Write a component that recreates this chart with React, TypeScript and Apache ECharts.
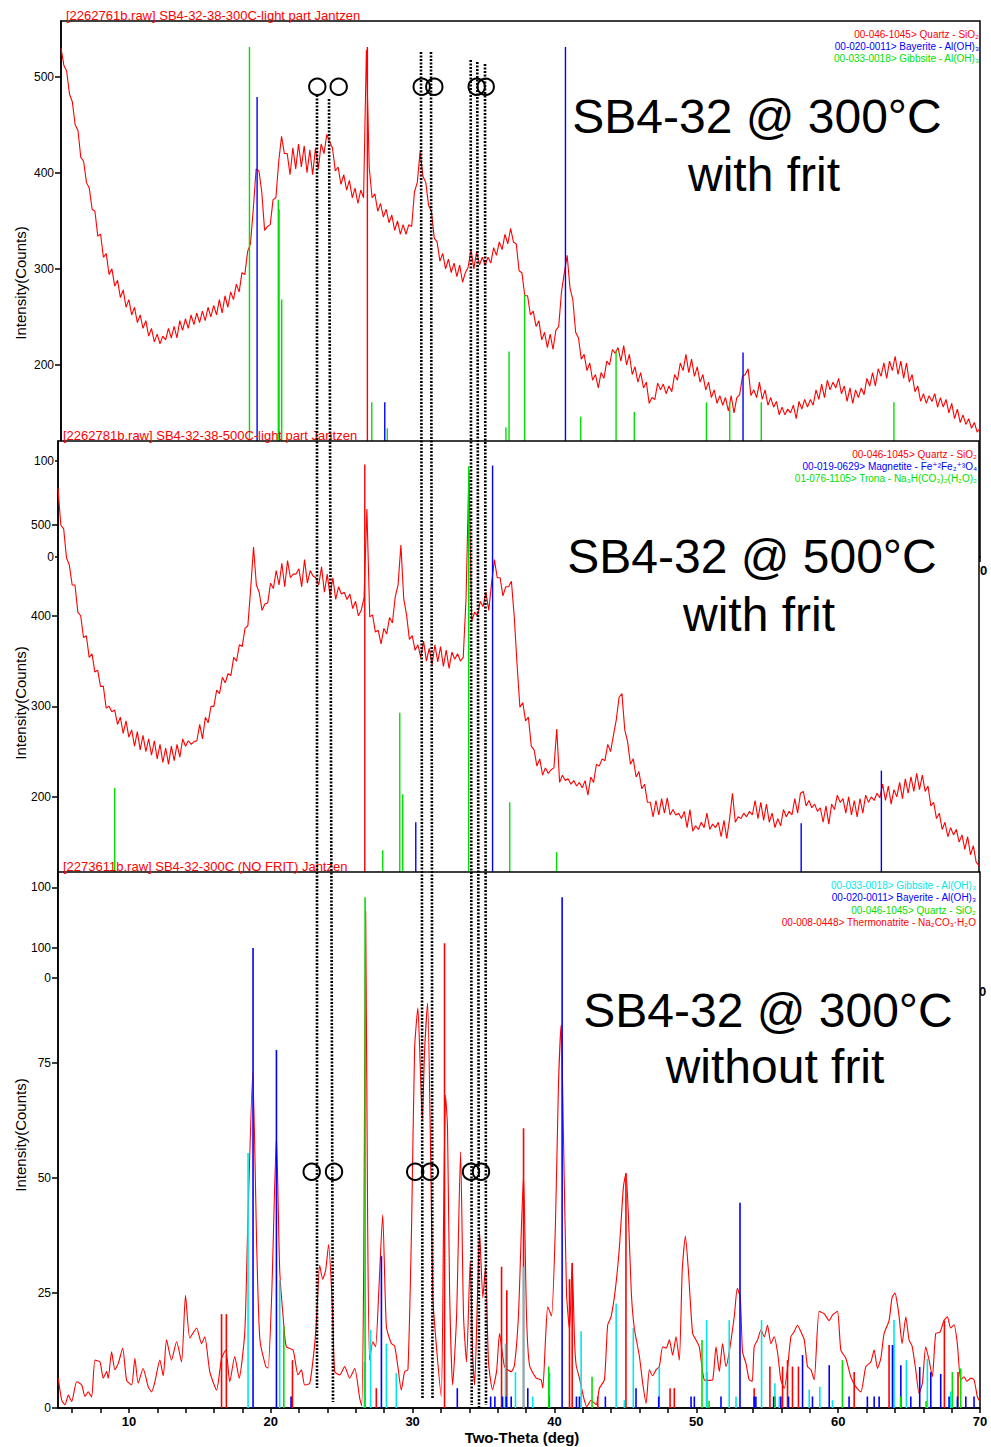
import React, { useEffect, useRef } from "react";
import * as echarts from "echarts";

// ---- scans on a uniform 0.2° grid from 5° ----
const THETA_START = 5;
const THETA_STEP = 0.2;

// SB4-32 @ 300°C with frit (counts)
const SCAN_300C_FRIT = [
  530, 512, 506, 482, 474, 450, 444, 416, 412, 390,
  384, 362, 360, 334, 336, 312, 316, 294, 300, 282,
  288, 270, 278, 260, 268, 252, 260, 244, 252, 238,
  246, 230, 238, 224, 232, 222, 230, 226, 238, 228,
  240, 228, 246, 236, 248, 238, 252, 242, 254, 244,
  256, 246, 260, 250, 262, 252, 268, 254, 272, 260,
  276, 268, 284, 276, 296, 294, 318, 326, 362, 404,
  402, 380, 340, 344, 346, 372, 374, 412, 438, 420,
  420, 398, 426, 404, 430, 406, 428, 400, 424, 398,
  426, 404, 430, 420, 440, 432, 426, 402, 406, 388,
  398, 382, 392, 374, 384, 368, 382, 374, 528, 406,
  374, 378, 360, 368, 354, 362, 348, 356, 340, 350,
  336, 346, 336, 346, 344, 380, 390, 422, 396, 390,
  366, 360, 332, 328, 308, 316, 300, 310, 296, 306,
  292, 304, 286, 296, 302, 320, 300, 318, 304, 312,
  304, 312, 306, 322, 314, 328, 320, 336, 326, 342,
  328, 326, 298, 296, 272, 272, 252, 256, 240, 246,
  226, 234, 218, 232, 216, 236, 240, 276, 296, 314,
  280, 268, 234, 228, 206, 211, 194, 202, 184, 190,
  176, 192, 186, 204, 200, 216, 212, 218, 204, 220,
  200, 211, 190, 198, 182, 192, 176, 182, 160, 166,
  164, 181, 174, 180, 170, 178, 172, 190, 184, 202,
  194, 211, 192, 206, 188, 198, 182, 190, 174, 182,
  166, 174, 160, 168, 158, 166, 152, 168, 150, 166,
  169, 188, 190, 196, 168, 174, 166, 182, 164, 174,
  158, 166, 156, 162, 148, 156, 148, 154, 150, 158,
  144, 162, 154, 164, 156, 164, 158, 174, 164, 180,
  166, 184, 174, 182, 176, 186, 170, 178, 162, 176,
  160, 174, 166, 176, 169, 186, 178, 192, 178, 196,
  188, 202, 186, 204, 194, 209, 190, 204, 186, 202,
  182, 190, 172, 178, 162, 170, 160, 168, 162, 170,
  156, 166, 156, 164, 150, 160, 144, 154, 140, 148,
  138, 144, 134, 140, 130, 134,
];

// SB4-32 @ 500°C with frit (counts)
const SCAN_500C_FRIT = [
  541, 500, 496, 464, 456, 434, 434, 404, 400, 376,
  378, 354, 358, 338, 340, 322, 322, 298, 300, 294,
  296, 280, 288, 270, 284, 266, 274, 256, 272, 252,
  268, 250, 264, 246, 262, 242, 258, 238, 254, 236,
  256, 240, 258, 244, 264, 256, 262, 258, 261, 262,
  280, 264, 288, 282, 300, 300, 318, 314, 332, 326,
  336, 334, 354, 350, 368, 366, 386, 389, 430, 476,
  434, 426, 406, 413, 414, 436, 430, 450, 434, 458,
  432, 461, 442, 446, 446, 452, 432, 462, 436, 450,
  444, 442, 434, 454, 426, 446, 422, 442, 418, 432,
  424, 426, 418, 424, 408, 416, 400, 406, 420, 518,
  399, 401, 382, 384, 369, 386, 380, 398, 392, 421,
  434, 478, 419, 401, 374, 378, 362, 368, 354, 372,
  350, 364, 346, 368, 349, 366, 344, 362, 342, 360,
  352, 358, 350, 354, 420, 560, 394, 404, 400, 416,
  410, 426, 406, 436, 462, 442, 442, 422, 432, 432,
  438, 399, 346, 299, 304, 284, 288, 256, 252, 234,
  242, 224, 232, 226, 230, 232, 275, 216, 224, 218,
  220, 214, 218, 212, 216, 210, 218, 202, 222, 216,
  236, 234, 242, 240, 258, 250, 268, 285, 310, 314,
  274, 261, 236, 242, 222, 228, 209, 214, 194, 194,
  178, 196, 180, 198, 182, 199, 180, 186, 180, 182,
  176, 184, 166, 186, 162, 168, 164, 172, 166, 182,
  164, 170, 166, 172, 156, 174, 154, 176, 204, 172,
  178, 176, 182, 178, 184, 180, 196, 176, 194, 174,
  192, 172, 182, 166, 176, 168, 186, 178, 184, 180,
  198, 182, 204, 206, 190, 196, 188, 192, 184, 188,
  172, 190, 170, 192, 186, 202, 194, 198, 182, 200,
  180, 196, 178, 198, 182, 202, 194, 200, 196, 204,
  199, 214, 196, 212, 192, 208, 200, 216, 198, 220,
  204, 222, 206, 226, 208, 224, 206, 212, 190, 194,
  176, 182, 164, 172, 156, 166, 158, 164, 150, 158,
  142, 156, 136, 146, 128, 124,
];

// SB4-32 @ 300°C without frit: [2θ, counts]
const SCAN_300C_NOFRIT = [
  [5.02, 6.5], [5.26, 1.7], [5.49, 0.7], [5.73, 2.8], [5.96, 1.4], [6.32, 5.7], [6.67, 5], [6.9, 2.5], [7.13, 3.5], [7.37, 2.4],
  [7.61, 10.4], [7.96, 10], [8.19, 6.5], [8.43, 7.9], [8.54, 6.4], [8.78, 12.2], [9.01, 8.3], [9.25, 9.7], [9.56, 13], [9.84, 6],
  [10.19, 5], [10.42, 10.8], [10.65, 5.4], [11.0, 8.6], [11.36, 4.6], [11.6, 3.5], [11.83, 5.7], [12.18, 10.4], [12.42, 7], [12.65, 14.8],
  [13.0, 10.4], [13.36, 14.4], [13.71, 10], [13.99, 24.5], [14.3, 15.2], [14.77, 17.4], [15.12, 14], [15.35, 15.5], [15.7, 7.9], [16.18, 3.9],
  [16.53, 10.8], [16.83, 12.6], [17.11, 5.7], [17.46, 11.2], [17.77, 6.5], [18.17, 16.6], [18.38, 40], [18.73, 73], [19.01, 35], [19.23, 15],
  [19.65, 9], [19.81, 8.7], [20.07, 25], [20.4, 59], [20.63, 30], [20.92, 18], [21.1, 13.3], [21.57, 12.6], [21.92, 7.2], [22.16, 8.3],
  [22.39, 5], [22.75, 5.4], [23.1, 14], [23.24, 20], [23.45, 31], [23.66, 28], [23.87, 30], [24.08, 35.5], [24.37, 20], [24.51, 7.9],
  [24.86, 7.2], [25.21, 9], [25.56, 6.5], [25.92, 8.6], [26.27, 2.1], [26.41, 0.5], [26.55, 30], [26.69, 108], [26.83, 40], [26.97, 10.4],
  [27.2, 14.4], [27.39, 13.3], [27.61, 25], [27.89, 42], [28.15, 17.7], [28.5, 14], [28.73, 13.5], [28.96, 9], [29.2, 3.9], [29.44, 7.9],
  [29.67, 8.3], [29.93, 40], [30.14, 78], [30.37, 87], [30.53, 75], [30.68, 62.6], [30.85, 78], [31.06, 88], [31.27, 55], [31.43, 24],
  [31.67, 13.7], [32.02, 2.5], [32.18, 40], [32.32, 68], [32.46, 61], [32.61, 25], [32.82, 5], [33.1, 20], [33.38, 55.7], [33.59, 20],
  [33.8, 10], [34.06, 32], [34.23, 12], [34.37, 5], [34.58, 25], [34.72, 38.3], [34.95, 24], [35.14, 30.7], [35.35, 10], [35.63, 4],
  [35.92, 8], [36.13, 16.2], [36.48, 9], [36.95, 7.9], [37.18, 9.3], [37.46, 20], [37.68, 40], [37.82, 50.7], [38.03, 20], [38.24, 9.3],
  [38.71, 6.5], [39.06, 6.1], [39.18, 4.3], [39.37, 15], [39.53, 22], [39.79, 20], [40.07, 40], [40.28, 70], [40.47, 83.3], [40.63, 60],
  [40.85, 25], [41.06, 17], [41.25, 31.5], [41.41, 15], [41.53, 9.3], [41.76, 6.5], [42.04, 2.5], [42.28, 0.3], [42.58, 1.7], [42.94, 0.7],
  [43.17, 4.3], [43.52, 6.1], [43.75, 18], [43.99, 19.8], [44.3, 26], [44.58, 35], [44.86, 48], [45.04, 51], [45.21, 42], [45.42, 25],
  [45.63, 17.3], [45.99, 11.2], [46.22, 5.4], [46.46, 1], [46.69, 8.3], [46.92, 7], [47.16, 8.3], [47.39, 9], [47.63, 13.3], [47.87, 13],
  [48.1, 14.8], [48.33, 11.5], [48.57, 15.5], [48.8, 10.4], [49.01, 30], [49.23, 37.4], [49.44, 30], [49.74, 16.2], [49.98, 14.8], [50.21, 13.3],
  [50.56, 6.1], [50.85, 6], [51.15, 6.1], [51.39, 13.3], [51.62, 7.9], [51.85, 14], [52.09, 9], [52.31, 12], [52.68, 20], [52.89, 26],
  [53.1, 24], [53.26, 12.2], [53.5, 9.7], [53.73, 6.1], [53.94, 5.8], [54.08, 13.3], [54.32, 14.8], [54.56, 17], [54.79, 15.5], [55.02, 18],
  [55.26, 14], [55.49, 15.5], [55.73, 12], [55.96, 6.1], [56.2, 4.3], [56.43, 8.6], [56.67, 15.5], [56.9, 16.6], [57.13, 18], [57.37, 16.6],
  [57.61, 14.8], [57.84, 9], [58.08, 8.3], [58.31, 6.1], [58.66, 21], [59.01, 20.5], [59.37, 19], [59.6, 20.2], [59.95, 21], [60.19, 12.6],
  [60.54, 10.8], [60.89, 6.8], [61.25, 4.6], [61.6, 3.5], [61.95, 9], [62.3, 10], [62.54, 12.6], [62.77, 8.6], [63.01, 10.8], [63.24, 16.2],
  [63.59, 19], [63.8, 24], [64.01, 25], [64.15, 23], [64.3, 19.8], [64.51, 14], [64.77, 19.8], [65.0, 14.8], [65.21, 13.5], [65.47, 8.3],
  [65.7, 3.2], [65.94, 5.4], [66.17, 13.3], [66.41, 10.4], [66.64, 6.8], [66.88, 16.2], [67.18, 16.5], [67.46, 19], [67.7, 19.8], [67.93, 17.4],
  [68.17, 18.1], [68.4, 14], [68.64, 6.1], [68.87, 6.8], [69.08, 5.8], [69.35, 6.5], [69.58, 6.1], [69.81, 2.5], [69.93, 1.7],
];

// ---- reference patterns: [2θ, stick height in the panel's counts] ----
const P1_QUARTZ = [[26.67, 531]];
const P1_BAYERITE = [[18.87, 479], [20.4, 362], [27.9, 161], [40.68, 531], [53.24, 213]];
const P1_GIBBSITE = [
  [18.33, 531], [20.37, 372], [20.61, 268], [26.98, 161], [28.08, 134], [36.47, 135], [36.69, 214],
  [37.79, 273], [41.76, 146], [44.26, 215], [45.55, 151], [50.65, 161], [52.3, 161], [54.53, 161], [63.91, 161],
];

const P2_QUARTZ = [[26.65, 567]];
const P2_MAGNETITE = [[30.25, 172], [35.67, 566], [57.45, 171], [63.11, 229]];
const P2_TRONA = [[9.0, 210], [27.92, 141], [29.12, 293], [29.33, 203], [33.98, 565], [36.88, 194], [40.19, 139]];

const P3_GIBBSITE = [
  [18.4, 55.4], [20.63, 27.8], [26.6, 10], [27.04, 17], [28.15, 14], [28.85, 7.6], [36.55, 14], [37.25, 7.8],
  [37.82, 30.7], [38.47, 2.5], [39.65, 7.6], [41.88, 16.7], [44.35, 22.7], [44.93, 1.7], [45.56, 17.4], [47.39, 9],
  [50.73, 19.1], [52.32, 19.1], [52.8, 2.5], [54.6, 19.1], [55.54, 5.4], [55.85, 2.5], [57.96, 4], [58.71, 4.6],
  [59.6, 1.7], [63.94, 19.1], [64.81, 10.4], [66.29, 10.7], [67.94, 3.6], [68.41, 1.7],
];
const P3_BAYERITE = [
  [18.75, 100], [20.4, 77.8], [21.43, 2.5], [27.8, 33], [33.15, 4.3], [35.5, 2.5], [35.8, 2.5], [36.34, 2.5],
  [36.6, 2.5], [36.95, 2.5], [38.12, 4.3], [39.6, 2.5], [40.54, 111], [41.55, 2.5], [41.76, 2.5], [43.59, 2.5],
  [45.75, 4.3], [47.35, 2.5], [49.63, 2.5], [49.86, 2.5], [51.74, 2.5], [53.08, 44.6], [54.08, 2.5], [54.2, 2.5],
  [55.45, 2.5], [55.96, 2.5], [56.5, 2.5], [57.49, 11.5], [58.19, 2.5], [59.37, 9.3], [60.77, 2.5], [62.06, 2.5],
  [62.54, 2.5], [62.89, 2.5], [63.83, 13.7], [64.42, 9.3], [65.12, 2.5], [65.75, 8.9], [66.53, 7.8], [67.23, 7.4],
  [67.82, 2.5], [68.41, 2.5], [69.0, 2.5], [69.58, 2.5],
];
const P3_QUARTZ = [
  [20.92, 17.8], [26.65, 111], [39.6, 9], [42.65, 6.8], [50.4, 14.8], [50.9, 1.5], [55.56, 2.5], [60.3, 10.4],
  [64.4, 2.5], [66.2, 1.5], [68.05, 7.8], [68.64, 8.6],
];
const P3_THERMONATRITE = [
  [16.53, 20.4], [16.87, 20.4], [21.53, 10.4], [27.44, 4.3], [32.25, 101], [36.27, 30.7], [36.64, 25.6],
  [37.82, 60.8], [41.06, 28], [41.25, 31.5], [43.05, 2.5], [45.04, 51], [48.15, 4.3], [48.45, 4.3], [50.73, 7.9],
  [54.08, 4.3], [55.19, 9], [56.08, 9], [56.43, 10.4], [56.78, 9], [57.2, 9], [61.13, 7.8], [63.59, 13.7],
  [67.49, 19], [68.45, 7.8],
];

// ---- axis ticks ----
const X_TICKS = [6, 8, 10, 12, 14, 16, 18, 20, 22, 24, 26, 28, 30, 32, 34, 36, 38, 40, 42, 44, 46, 48, 50, 52, 54, 56, 58, 60, 62, 64, 66, 68, 70];
const X_LABELS = [10, 20, 30, 40, 50, 60, 70];
// the two upper plots only keep the label that is not hidden behind the next plot
const X_LABELS_COVERED = [70];
const P1_Y_TICKS = [0, 100, 200, 300, 400, 500];
const P2_Y_TICKS = [0, 100, 200, 300, 400, 500];
const P3_Y_TICKS = [0, 25, 50, 75, 100];
const Y_MAX = [558, 593, 116.5];

// ---- texts ----
const TITLES = [
  "[2262761b.raw] SB4-32-38-300C-light part Jantzen",
  "[2262781b.raw] SB4-32-38-500C-light part Jantzen",
  "[2273611b.raw] SB4-32-300C (NO FRIT) Jantzen",
];
const LEGEND_1 = [
  ["00-046-1045> Quartz - SiO\u2082", "#ff0000"],
  ["00-020-0011> Bayerite - Al(OH)\u2083", "#0000ff"],
  ["00-033-0018> Gibbsite - Al(OH)\u2083", "#00e000"],
];
const LEGEND_2 = [
  ["00-046-1045> Quartz - SiO\u2082", "#ff0000"],
  ["00-019-0629> Magnetite - Fe\u207A\u00B2Fe\u2082\u207A\u00B3O\u2084", "#0000ff"],
  ["01-076-1105> Trona - Na\u2083H(CO\u2083)\u2082(H\u2082O)\u2082", "#00e000"],
];
const LEGEND_3 = [
  ["00-033-0018> Gibbsite - Al(OH)\u2083", "#00e8e8"],
  ["00-020-0011> Bayerite - Al(OH)\u2083", "#0000ff"],
  ["00-046-1045> Quartz - SiO\u2082", "#00e000"],
  ["00-008-0448> Thermonatrite - Na\u2082CO\u2083\u00B7H\u2082O", "#ff0000"],
];
const SAMPLE_LABELS = [
  ["SB4-32 @ 300\u00B0C", "with frit"],
  ["SB4-32 @ 500\u00B0C", "with frit"],
  ["SB4-32 @ 300\u00B0C", "without frit"],
];

const FONT = '"Liberation Sans", Arial, Helvetica, "DejaVu Sans", sans-serif';
const RED = "#ff0000";
const BLUE = "#0000ff";
const GREEN = "#00e000";
const CYAN = "#00e8e8";

// page layout of the three stacked plots (later ones paint over earlier ones)
const PANELS = [
  { left: 61, top: 21, width: 919, height: 536, z: 1 },
  { left: 58, top: 441, width: 921, height: 537, z: 10 },
  { left: 58, top: 872, width: 922, height: 536, z: 20 },
];

// hand-drawn guide lines and circles over all three plots
const GUIDE_LINES = [
  [317, 95, 317, 1388],
  [329, 99, 333, 1402],
  [421, 52, 422.5, 1398],
  [431, 52, 432.5, 1398],
  [470.7, 60, 471.7, 1405],
  [477.3, 62, 479, 1408],
  [485, 64, 486, 1405],
];
const GUIDE_CIRCLES = [
  [317.3, 86.7], [338.7, 86.7], [421.7, 86.7], [434.3, 86.7], [476.7, 86.7], [485.7, 86.7],
  [311.7, 1171.7], [334, 1171.7], [415.2, 1171.7], [430, 1171.7], [471, 1171.7], [481, 1171.7],
];

const toPairs = (vals: number[]) =>
  vals.map((v, i) => [Number((THETA_START + i * THETA_STEP).toFixed(2)), v]);

function stickSeries(data: number[][], color: string, idx: number, z: number, width = 1.4) {
  return {
    type: "custom",
    xAxisIndex: idx,
    yAxisIndex: idx,
    z,
    silent: true,
    data,
    encode: { x: 0, y: 1 },
    renderItem: (_params: any, api: any) => {
      const x = api.value(0);
      const p0 = api.coord([x, 0]);
      const p1 = api.coord([x, api.value(1)]);
      return {
        type: "line",
        shape: { x1: p0[0], y1: p0[1], x2: p1[0], y2: p1[1] },
        style: { stroke: color, lineWidth: width },
      };
    },
  };
}

function scanSeries(data: number[][], idx: number, z: number, smooth: number | boolean = false) {
  return {
    type: "line",
    xAxisIndex: idx,
    yAxisIndex: idx,
    z,
    silent: true,
    data,
    symbol: "none",
    showSymbol: false,
    smooth,
    lineStyle: { color: RED, width: 1.1 },
  };
}

export default function App() {
  const ref = useRef<HTMLDivElement>(null);

  useEffect(() => {
    if (!ref.current) return;
    const chart = echarts.init(ref.current, null, { renderer: "svg" });

    const yTicks = [P1_Y_TICKS, P2_Y_TICKS, P3_Y_TICKS];
    const xLabels = [X_LABELS_COVERED, X_LABELS_COVERED, X_LABELS];

    const grid = PANELS.map((p) => ({
      left: p.left,
      top: p.top,
      width: p.width,
      height: p.height,
      show: true,
      backgroundColor: "#ffffff",
      borderColor: "#000000",
      borderWidth: 1.5,
      z: p.z,
      outerBoundsMode: "none",
      containLabel: false,
    }));

    const xAxis = PANELS.map((p, i) => ({
      gridIndex: i,
      type: "value",
      min: 5,
      max: 70,
      z: p.z + 1,
      axisLine: { show: true, onZero: false, lineStyle: { color: "#000", width: 1.5 } },
      axisTick: { show: true, customValues: X_TICKS, length: 5, inside: false, lineStyle: { color: "#000", width: 1.5 } },
      axisLabel: { show: true, customValues: xLabels[i], margin: 7, color: "#000", fontSize: 13, fontWeight: "bold", fontFamily: FONT },
      splitLine: { show: false },
    }));

    const yAxis = PANELS.map((p, i) => ({
      gridIndex: i,
      type: "value",
      min: 0,
      max: Y_MAX[i],
      z: p.z + 1,
      axisLine: { show: true, onZero: false, lineStyle: { color: "#000", width: 1.5 } },
      axisTick: { show: true, customValues: yTicks[i], length: 6, inside: false, lineStyle: { color: "#000", width: 1.5 } },
      axisLabel: { show: true, customValues: yTicks[i], margin: 7, color: "#000", fontSize: 12, fontFamily: FONT },
      splitLine: { show: false },
    }));

    const series: any[] = [
      scanSeries(toPairs(SCAN_300C_FRIT), 0, 3),
      stickSeries(P1_QUARTZ, RED, 0, 4),
      stickSeries(P1_BAYERITE, BLUE, 0, 5),
      stickSeries(P1_GIBBSITE, GREEN, 0, 6),

      scanSeries(toPairs(SCAN_500C_FRIT), 1, 12),
      stickSeries(P2_QUARTZ, RED, 1, 13),
      stickSeries(P2_MAGNETITE, BLUE, 1, 14),
      stickSeries(P2_TRONA, GREEN, 1, 15),

      scanSeries(SCAN_300C_NOFRIT, 2, 22, 0.2),
      stickSeries(P3_THERMONATRITE, RED, 2, 23, 1.6),
      stickSeries(P3_GIBBSITE, CYAN, 2, 24, 1.6),
      stickSeries(P3_BAYERITE, BLUE, 2, 25, 1.6),
      stickSeries(P3_QUARTZ, GREEN, 2, 26, 1.6),
    ];

    const elements: any[] = [];
    const Z = 100;

    const titlePos = [[66, 15], [63, 435], [63, 866]];
    TITLES.forEach((t, i) =>
      elements.push({
        type: "text", x: titlePos[i][0], y: titlePos[i][1], z: Z, silent: true,
        style: { text: t, fill: RED, fontSize: 13, fontFamily: FONT, align: "left", verticalAlign: "middle" },
      })
    );

    const legends: [string[][], number, number[]][] = [
      [LEGEND_1, 979, [34, 46, 58]],
      [LEGEND_2, 977, [454, 466, 478.5]],
      [LEGEND_3, 976, [885, 897.3, 910, 922.3]],
    ];
    legends.forEach(([rows, right, ys]) =>
      rows.forEach(([t, c], k) =>
        elements.push({
          type: "text", x: right, y: ys[k], z: Z, silent: true,
          style: { text: t, fill: c, fontSize: 10, fontFamily: FONT, align: "right", verticalAlign: "middle" },
        })
      )
    );

    const labelPos = [
      [[757, 116], [764, 174]],
      [[752, 556], [759, 614]],
      [[768, 1010], [775, 1066]],
    ];
    SAMPLE_LABELS.forEach((pair, i) =>
      pair.forEach((t, k) =>
        elements.push({
          type: "text", x: labelPos[i][k][0], y: labelPos[i][k][1], z: Z, silent: true,
          style: { text: t, fill: "#000", fontSize: 48, fontFamily: FONT, align: "center", verticalAlign: "middle" },
        })
      )
    );

    [283, 703, 1135].forEach((y) =>
      elements.push({
        type: "text", x: 20, y, rotation: Math.PI / 2, z: Z, silent: true,
        style: { text: "Intensity(Counts)", fill: "#000", fontSize: 15, fontFamily: FONT, align: "center", verticalAlign: "middle" },
      })
    );
    elements.push({
      type: "text", x: 522, y: 1437, z: Z, silent: true,
      style: { text: "Two-Theta (deg)", fill: "#000", fontSize: 15, fontWeight: "bold", fontFamily: FONT, align: "center", verticalAlign: "middle" },
    });

    GUIDE_LINES.forEach(([x1, y1, x2, y2]) =>
      elements.push({
        type: "line", z: Z + 1, silent: true,
        shape: { x1, y1, x2, y2 },
        style: { stroke: "#000", lineWidth: 2.6, lineDash: [2, 1.5] },
      })
    );
    GUIDE_CIRCLES.forEach(([cx, cy]) =>
      elements.push({
        type: "circle", z: Z + 2, silent: true,
        shape: { cx, cy, r: 8.2 },
        style: { fill: "none", stroke: "#000", lineWidth: 2 },
      })
    );

    chart.setOption({
      animation: false,
      backgroundColor: "#ffffff",
      textStyle: { fontFamily: FONT },
      grid,
      xAxis,
      yAxis,
      series,
      graphic: { elements },
    });

    return () => chart.dispose();
  }, []);

  return (
    <div
      ref={ref}
      style={{ position: "absolute", left: 0, top: 0, width: 991, height: 1447, background: "#fff" }}
    />
  );
}
